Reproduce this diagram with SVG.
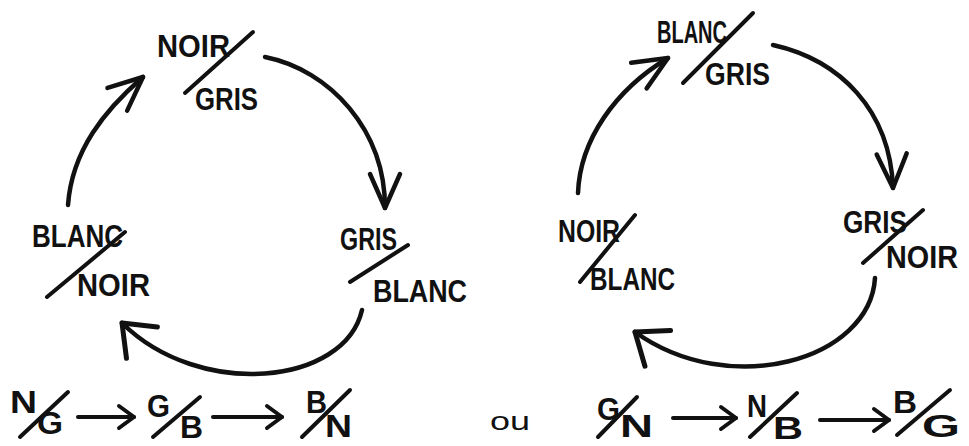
<svg xmlns="http://www.w3.org/2000/svg" width="969" height="446" viewBox="0 0 969 446">
<style>
text{font-family:"Liberation Sans","DejaVu Sans",sans-serif;font-weight:bold;fill:#111}
.l{font-size:32px}
.s{font-size:31px}
.ou{font-size:26px;font-weight:normal}
.sl{stroke:#111;stroke-width:4;stroke-linecap:round;fill:none}
.c{stroke:#111;stroke-width:4.5;stroke-linecap:round;fill:none}
</style>
<defs>
<marker id="big" markerUnits="userSpaceOnUse" markerWidth="60" markerHeight="60" refX="0" refY="0" viewBox="-40 -30 50 60" orient="auto" overflow="visible">
<path d="M-34,-15 L0,0 L-34,15" fill="none" stroke="#111" stroke-width="4.5" stroke-linecap="round" stroke-linejoin="round"/>
</marker>
<marker id="wide" markerUnits="userSpaceOnUse" markerWidth="60" markerHeight="60" refX="0" refY="0" viewBox="-40 -30 50 60" orient="auto" overflow="visible">
<path d="M-28,-22 L0,0 L-28,22" fill="none" stroke="#111" stroke-width="5" stroke-linecap="round" stroke-linejoin="round"/>
</marker>
<marker id="small" markerUnits="userSpaceOnUse" markerWidth="30" markerHeight="30" refX="0" refY="0" viewBox="-20 -15 25 30" orient="auto" overflow="visible">
<path d="M-15,-11 L0,0 L-15,11" fill="none" stroke="#111" stroke-width="4" stroke-linecap="round" stroke-linejoin="round"/>
</marker>
</defs>
<rect width="969" height="446" fill="#fff"/>

<!-- Left cycle -->
<g id="L-noir-gris">
<text class="l" x="157" y="57" textLength="73" lengthAdjust="spacingAndGlyphs">NOIR</text>
<line class="sl" x1="253" y1="32" x2="185" y2="93"/>
<text class="l" x="195" y="110" textLength="63" lengthAdjust="spacingAndGlyphs">GRIS</text>
</g>
<g id="L-gris-blanc">
<text class="l" x="340" y="250" textLength="57" lengthAdjust="spacingAndGlyphs">GRIS</text>
<line class="sl" x1="408" y1="245" x2="350" y2="282"/>
<text class="l" x="373" y="302" textLength="94" lengthAdjust="spacingAndGlyphs">BLANC</text>
</g>
<g id="L-blanc-noir">
<text class="l" x="32" y="247" textLength="91" lengthAdjust="spacingAndGlyphs">BLANC</text>
<line class="sl" x1="125" y1="232" x2="47" y2="297"/>
<text class="l" x="77" y="296" textLength="73" lengthAdjust="spacingAndGlyphs">NOIR</text>
</g>

<!-- Right cycle -->
<g id="R-blanc-gris">
<text class="l" x="657" y="43" textLength="70" lengthAdjust="spacingAndGlyphs">BLANC</text>
<line class="sl" x1="753" y1="13" x2="683" y2="83"/>
<text class="l" x="705" y="85" textLength="65" lengthAdjust="spacingAndGlyphs">GRIS</text>
</g>
<g id="R-gris-noir">
<text class="l" x="843" y="233" textLength="64" lengthAdjust="spacingAndGlyphs">GRIS</text>
<line class="sl" x1="923" y1="210" x2="863" y2="263"/>
<text class="l" x="886" y="268" textLength="72" lengthAdjust="spacingAndGlyphs">NOIR</text>
</g>
<g id="R-noir-blanc">
<text class="l" x="558" y="242" textLength="62" lengthAdjust="spacingAndGlyphs">NOIR</text>
<line class="sl" x1="635" y1="215" x2="580" y2="282"/>
<text class="l" x="590" y="290" textLength="85" lengthAdjust="spacingAndGlyphs">BLANC</text>
</g>

<!-- Bottom row left -->
<g id="f-N-G">
<text class="s" x="10" y="413" textLength="27" lengthAdjust="spacingAndGlyphs">N</text>
<line class="sl" x1="68" y1="392" x2="20" y2="437"/>
<text class="s" x="37" y="434" textLength="26" lengthAdjust="spacingAndGlyphs">G</text>
</g>
<g id="f-G-B">
<text class="s" x="147" y="417" textLength="23" lengthAdjust="spacingAndGlyphs">G</text>
<line class="sl" x1="200" y1="397" x2="153" y2="437"/>
<text class="s" x="180" y="438" textLength="23" lengthAdjust="spacingAndGlyphs">B</text>
</g>
<g id="f-B-N">
<text class="s" x="306" y="413" textLength="21" lengthAdjust="spacingAndGlyphs">B</text>
<line class="sl" x1="350" y1="390" x2="302" y2="437"/>
<text class="s" x="325" y="437" textLength="27" lengthAdjust="spacingAndGlyphs">N</text>
</g>

<g id="ou">
<text class="ou" x="490" y="430" textLength="40" lengthAdjust="spacingAndGlyphs">ou</text>
</g>

<!-- Bottom row right -->
<g id="f-G-N">
<text class="s" x="597" y="420" textLength="23" lengthAdjust="spacingAndGlyphs">G</text>
<line class="sl" x1="637" y1="397" x2="598" y2="437"/>
<text class="s" x="620" y="437" textLength="33" lengthAdjust="spacingAndGlyphs">N</text>
</g>
<g id="f-N-B">
<text class="s" x="747" y="417" textLength="20" lengthAdjust="spacingAndGlyphs">N</text>
<line class="sl" x1="797" y1="393" x2="750" y2="437"/>
<text class="s" x="773" y="439" textLength="30" lengthAdjust="spacingAndGlyphs">B</text>
</g>
<g id="f-B-G">
<text class="s" x="893" y="413" textLength="24" lengthAdjust="spacingAndGlyphs">B</text>
<line class="sl" x1="950" y1="390" x2="897" y2="435"/>
<text class="s" x="922" y="437" textLength="38" lengthAdjust="spacingAndGlyphs">G</text>
</g>

<!-- Connectors -->
<g id="connectors">
<path class="c" d="M68,205 C72,150 105,110 143,77" marker-end="url(#big)"/>
<path class="c" d="M265,57 C330,70 385,130 385,208" marker-end="url(#big)"/>
<path class="c" d="M362,310 C345,385 200,400 122,323" marker-end="url(#wide)"/>
<path class="c" d="M578,193 C580,140 615,90 668,58" marker-end="url(#big)"/>
<path class="c" d="M773,45 C840,60 890,110 893,188" marker-end="url(#big)"/>
<path class="c" d="M875,278 C870,360 730,400 635,332" marker-end="url(#wide)"/>
<line class="sl" x1="78" y1="417" x2="134" y2="417" marker-end="url(#small)"/>
<line class="sl" x1="213" y1="417" x2="282" y2="417" marker-end="url(#small)"/>
<line class="sl" x1="673" y1="418" x2="736" y2="418" marker-end="url(#small)"/>
<line class="sl" x1="820" y1="420" x2="889" y2="420" marker-end="url(#small)"/>
</g>
</svg>
